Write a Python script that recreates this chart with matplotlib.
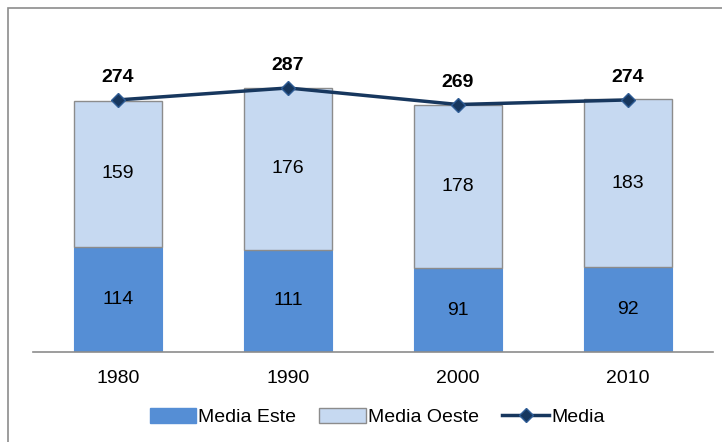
import matplotlib
matplotlib.use("Agg")
import matplotlib.pyplot as plt
from matplotlib.patches import Rectangle
from matplotlib.lines import Line2D
from matplotlib.patches import Patch

plt.rcParams['font.family'] = ['Liberation Sans', 'DejaVu Sans']

categories = ["1980", "1990", "2000", "2010"]
media_este = [114, 111, 91, 92]
media_oeste = [159, 176, 178, 183]
media = [274, 287, 269, 274]

W, H = 722, 442
fig = plt.figure(figsize=(W / 100, H / 100), dpi=100)
fig.patch.set_facecolor("white")

# outer chart border (extends past right/bottom edges)
fig.patches.append(Rectangle((8 / W, -0.05), 1.1, (H - 8) / H + 0.05,
                             transform=fig.transFigure, fill=False,
                             edgecolor="#8c8c8c", linewidth=1.2, zorder=0))

ax = fig.add_axes([33 / W, 90 / H, 680 / W, 322 / H])
x = list(range(len(categories)))
bw = 0.52
c_este = "#558ED5"
c_oeste = "#C6D9F1"
c_line = "#17375E"
fs = 14

ax.bar(x, media_este, width=bw, color=c_este, edgecolor=c_este, linewidth=0.8, zorder=2)
ax.bar(x, media_oeste, width=bw, bottom=media_este, color=c_oeste,
       edgecolor="#8c8c8c", linewidth=1.0, zorder=2)
ax.plot(x, media, color=c_line, linewidth=2.5, marker="D", markersize=7,
        markerfacecolor=c_line, markeredgecolor="#2f5d96", zorder=4)

for i in x:
    ax.text(i, media_este[i] / 2, str(media_este[i]), ha="center", va="center",
            fontsize=fs, color="black", zorder=5)
    ax.text(i, media_este[i] + media_oeste[i] / 2, str(media_oeste[i]), ha="center",
            va="center", fontsize=fs, color="black", zorder=5)
    ax.annotate(str(media[i]), (i, media[i]), xytext=(0, 16), textcoords="offset points",
                ha="center", va="center", fontsize=fs, fontweight="bold", zorder=5)

ax.set_xlim(-0.5, 3.5)
ax.set_ylim(0, 350)
ax.set_xticks(x)
ax.set_xticklabels(categories, fontsize=fs)
ax.tick_params(axis="x", length=0, pad=13)
ax.set_yticks([])
for s in ["top", "right", "left"]:
    ax.spines[s].set_visible(False)
ax.spines["bottom"].set_color("#8c8c8c")
ax.spines["bottom"].set_linewidth(1.2)

handles = [Patch(facecolor=c_este, edgecolor=c_este, label="Media Este"),
           Patch(facecolor=c_oeste, edgecolor="#8c8c8c", label="Media Oeste"),
           Line2D([0], [0], color=c_line, linewidth=2.5, marker="D", markersize=7,
                  markerfacecolor=c_line, markeredgecolor="#2f5d96", label="Media")]
fig.legend(handles=handles, loc="center", bbox_to_anchor=(377 / W, 1 - 417 / H),
           ncol=3, frameon=False, fontsize=fs, handlelength=2.4, handletextpad=0.1,
           columnspacing=1.2, handleheight=0.8)

fig.savefig("out.png", dpi=100)
